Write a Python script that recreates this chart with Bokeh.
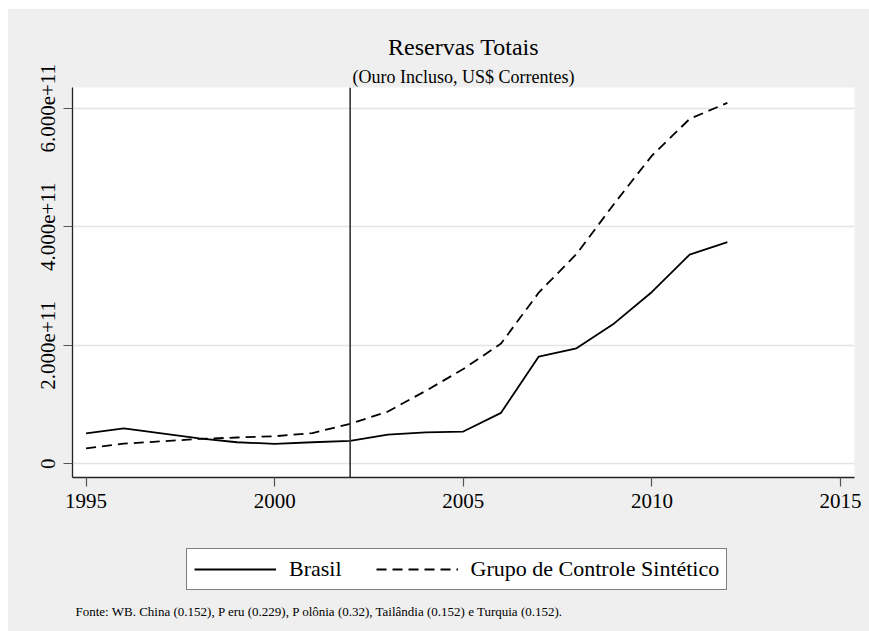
from bokeh.plotting import figure
from bokeh.layouts import column
from bokeh.models import Span, Legend, LegendItem, FixedTicker, Range1d, ColumnDataSource, Title, Label
from bokeh.embed import file_html
from bokeh.resources import INLINE

# ---- data ----
years = [1995, 1996, 1997, 1998, 1999, 2000, 2001, 2002, 2003, 2004,
         2005, 2006, 2007, 2008, 2009, 2010, 2011, 2012]
brasil = [0.516e11, 0.600e11, 0.515e11, 0.430e11, 0.365e11, 0.338e11, 0.365e11, 0.388e11, 0.495e11, 0.533e11,
          0.545e11, 0.861e11, 1.81e11, 1.95e11, 2.37e11, 2.90e11, 3.53e11, 3.74e11]
sintetico = [0.263e11, 0.340e11, 0.380e11, 0.420e11, 0.445e11, 0.466e11, 0.520e11, 0.675e11, 0.883e11, 1.23e11,
             1.60e11, 2.03e11, 2.89e11, 3.54e11, 4.39e11, 5.20e11, 5.82e11, 6.09e11]
treatment_year = 2002
x_ticks = [1995, 2000, 2005, 2010, 2015]
y_ticks = [0, 2e11, 4e11, 6e11]
y_tick_labels = ["0", "2.000e+11", "4.000e+11", "6.000e+11"]
series_names = ["Brasil", "Grupo de Controle Sintético"]
title_text = "Reservas Totais"
subtitle_text = "(Ouro Incluso, US$ Correntes)"
note_text = "Fonte: WB. China (0.152),  P eru (0.229), P olônia (0.32), Tailândia (0.152) e  Turquia (0.152)."

FONT = "Liberation Serif"
BG = "#efefef"
SOLID = dict(line_color="black", line_width=1.8)
DASHED = dict(line_color="black", line_width=1.8, line_dash="10 6")

# ---- main chart ----
p = figure(width=861, height=521, output_backend="svg", toolbar_location=None,
           x_range=Range1d(1994.64, 2015.37), y_range=Range1d(-0.23e11, 6.35e11),
           min_border_left=64, min_border_right=15, min_border_top=78, min_border_bottom=53)
p.background_fill_color = "white"
p.border_fill_color = BG
p.outline_line_color = None

src = ColumnDataSource(dict(x=years, b=brasil, s=sintetico))
p.line("x", "b", source=src, **SOLID)
p.line("x", "s", source=src, **DASHED)

p.add_layout(Span(location=treatment_year, dimension="height", line_color="#333333", line_width=1.6))

p.xaxis.ticker = FixedTicker(ticks=x_ticks)
p.yaxis.ticker = FixedTicker(ticks=y_ticks)
p.yaxis.major_label_overrides = {float(t): l for t, l in zip(y_ticks, y_tick_labels)}
p.yaxis.major_label_orientation = "vertical"
for ax in (p.xaxis[0], p.yaxis[0]):
    ax.axis_line_color = "#222222"
    ax.axis_line_width = 1.3
    ax.major_tick_line_color = "#555555"
    ax.major_tick_line_width = 1.2
    ax.major_tick_out = 9
    ax.major_tick_in = 0
    ax.minor_tick_line_color = None
    ax.major_label_text_font = FONT
    ax.major_label_text_font_size = "21px"
    ax.major_label_text_color = "black"
p.xaxis.major_label_standoff = 7
p.yaxis.major_label_standoff = 8
p.xgrid.grid_line_color = None
p.ygrid.grid_line_color = "#e4e4e4"
p.ygrid.grid_line_width = 1.6

p.add_layout(Title(text=subtitle_text, align="center", text_font=FONT, text_font_size="18px",
                   text_font_style="normal", text_color="black", standoff=1), "above")
p.add_layout(Title(text=title_text, align="center", text_font=FONT, text_font_size="24px",
                   text_font_style="normal", text_color="black", standoff=10), "above")

# ---- legend + source note strip ----
q = figure(width=861, height=101, output_backend="svg", toolbar_location=None,
           x_range=Range1d(0, 861), y_range=Range1d(0, 101),
           min_border=0, x_axis_type=None, y_axis_type=None)
q.background_fill_color = BG
q.border_fill_color = BG
q.outline_line_color = None
q.grid.grid_line_color = None
l1 = q.line(x=[float("nan")], y=[float("nan")], **SOLID)
l2 = q.line(x=[float("nan")], y=[float("nan")], **DASHED)

legend = Legend(items=[LegendItem(label=series_names[0], renderers=[l1]),
                       LegendItem(label=series_names[1], renderers=[l2])],
                location=(114, 41), orientation="horizontal",
                glyph_width=82, glyph_height=22, label_height=22,
                label_standoff=13, spacing=34, padding=7, margin=0,
                label_text_font=FONT, label_text_font_size="22px", label_text_color="black",
                border_line_color="black", border_line_width=1,
                background_fill_color="white", background_fill_alpha=1)
q.add_layout(legend, "center")
q.add_layout(Label(x=3, y=20.3, x_units="screen", y_units="screen", text=note_text,
                   text_font=FONT, text_font_size="13px", text_align="left",
                   text_baseline="alphabetic", text_color="black"))

layout = column(p, q, spacing=0, margin=(9, 0, 0, 8), styles={"background-color": BG})
open("out.html", "w").write(file_html(layout, INLINE))
